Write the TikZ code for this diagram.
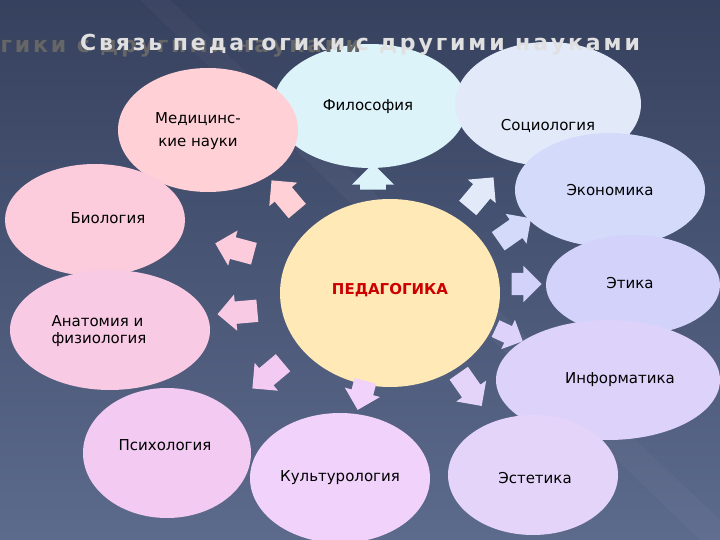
\documentclass[tikz,border=0pt]{standalone}
\usepackage{fontspec}
\setmainfont{DejaVu Sans}
\usetikzlibrary{shapes.arrows,shadows}
\definecolor{bgtop}{HTML}{36415E}
\definecolor{bgbot}{HTML}{5C6A8C}
\definecolor{cFil}{HTML}{DDF3FA}
\definecolor{cMed}{HTML}{FFD0D6}
\definecolor{cSoc}{HTML}{E2EAFA}
\definecolor{cEco}{HTML}{D4DAFA}
\definecolor{cBio}{HTML}{FCCCDC}
\definecolor{cEti}{HTML}{D2D2FA}
\definecolor{cPed}{HTML}{FFE9B6}
\definecolor{cAna}{HTML}{F8CAE4}
\definecolor{cInf}{HTML}{DCD2FA}
\definecolor{cPsy}{HTML}{F2CAF2}
\definecolor{cKul}{HTML}{F0D2FA}
\definecolor{cEst}{HTML}{E4D4FA}
\tikzset{
 lab/.style={font=\fontsize{15}{19}\selectfont,text=black,align=center},
 arr/.style={single arrow,draw=none,minimum height=40pt,minimum width=36pt,single arrow head extend=7pt,inner xsep=4pt,inner ysep=11pt,anchor=center,fill=#1},
 ttl/.style={font=\fontsize{22}{26}\selectfont\bfseries\addfontfeature{LetterSpace=13}}
}
\newcommand{\bubble}[5]{\fill[#5] (#1,#2) ellipse [x radius=#3,y radius=#4];}
\begin{document}
\begin{tikzpicture}[x=1pt,y=-1pt]
\shade[top color=bgtop,bottom color=bgbot] (0,0) rectangle (720,540);
\useasboundingbox (0,0) rectangle (720,540);
\fill[white,opacity=0.03] (140,0) -- (170,0) -- (720,520) -- (720,540) -- (700,540) -- cycle;
% bubbles
\bubble{370}{106}{97}{62}{cFil}
\bubble{208}{130}{90}{62}{cMed}
\bubble{548}{104}{93}{62}{cSoc}
\bubble{610}{190}{95}{57}{cEco}
\bubble{95}{220}{90}{56}{cBio}
\bubble{633}{285}{87}{50}{cEti}
\bubble{390}{293}{110}{94}{cPed}
\bubble{110}{330}{100}{60}{cAna}
\bubble{608}{380}{112}{60}{cInf}
\bubble{167}{453}{84}{65}{cPsy}
\bubble{340}{478}{90}{65}{cKul}
\bubble{533}{475}{85}{60}{cEst}
% labels
\node[lab] (med) at (198,131) {Медицинс-\\[4pt]кие науки};
\node[lab] (fil) at (368,107) {Философия};
\node[lab] (soc) at (548,126) {Социология};
\node[lab] (eco) at (610,190) {Экономика};
\node[lab] (bio) at (108,218) {Биология};
\node[lab,text={rgb,255:red,204;green,0;blue,0},font=\fontsize{15}{19}\selectfont\bfseries] (ped) at (390,290) {ПЕДАГОГИКА};
\node[lab] (eti) at (630,283) {Этика};
\node[lab,align=left,anchor=west,font=\fontsize{15}{17}\selectfont] (ana) at (48,331) {Анатомия и\\физиология};
\node[lab] (inf) at (620,380) {Информатика};
\node[lab] (psy) at (165,445) {Психология};
\node[lab] (kul) at (340,478) {Культурология};
\node[lab] (est) at (535,478) {Эстетика};
% title with shadow
\node[ttl,text=black!12] (title) at (360,45) {\makebox[0pt]{\raisebox{-1.8pt}[0pt][0pt]{\hspace*{2pt}\textcolor{black!60}{Связь педагогики с другими науками}}}Связь педагогики с другими науками};
% arrows
\node[arr=cFil,rotate=90,minimum height=26pt,minimum width=42pt] (a1) at (373,183) {};
\node[arr=cMed,rotate=130] (a2) at (288,200) {};
\node[arr=cBio,rotate=165] (a3) at (240,250) {};
\node[arr=cAna,rotate=185] (a4) at (243,312) {};
\node[arr=cPsy,rotate=220] (a5) at (272,372) {};
\node[arr=cKul,rotate=255,minimum height=30pt] (a6) at (363,390) {};
\node[arr=cEst,rotate=-55] (a7) at (467,385) {};
\node[arr=cInf,rotate=-25,minimum height=30pt,minimum width=30pt,inner ysep=9pt] (a8) at (505,333) {};
\node[arr=cEti,rotate=0,minimum height=30pt] (a9) at (521,284) {};
\node[arr=cEco,rotate=35] (a10) at (510,233) {};
\node[arr=cSoc,rotate=50] (a11) at (477,197) {};
\end{tikzpicture}
\end{document}
